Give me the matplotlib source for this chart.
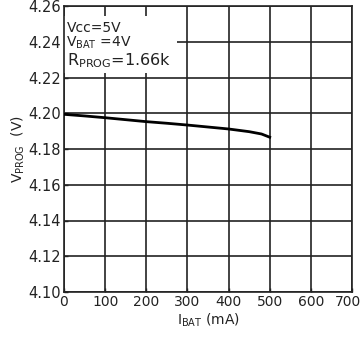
import matplotlib
matplotlib.use("Agg")
import matplotlib.pyplot as plt
from matplotlib.patches import Rectangle
from matplotlib.transforms import ScaledTranslation

# charge current (mA) vs PROG pin voltage (V)
ibat = [0, 50, 100, 150, 200, 250, 300, 350, 400, 450, 480, 500]
vprog = [4.1994, 4.1985, 4.1975, 4.1964, 4.1953, 4.1944, 4.1934, 4.1923, 4.1912, 4.1897, 4.1884, 4.1866]

xticks = [0, 100, 200, 300, 400, 500, 600, 700]
yticks = [4.10, 4.12, 4.14, 4.16, 4.18, 4.20, 4.22, 4.24, 4.26]

plt.rcParams['font.family'] = ['DejaVu Sans']
plt.rcParams['mathtext.fontset'] = 'dejavusans'

fig = plt.figure(figsize=(3.63, 3.37), dpi=100)
ax = fig.add_axes([64 / 363, 45 / 337, 288 / 363, 286 / 337])

ax.set_xlim(0, 700)
ax.set_ylim(4.10, 4.26)
ax.set_xticks(xticks)
ax.set_yticks(yticks)
ax.set_xticklabels([str(t) for t in xticks])
ax.set_yticklabels([f"{t:.2f}" for t in yticks])
ax.tick_params(direction='in', length=3, width=1, labelsize=10.5, pad=2, colors='#222222')
ax.tick_params(axis='x', labelsize=10)
# last x label sits a bit left so it stays inside the image
last = ax.get_xticklabels()[-1]
last.set_transform(last.get_transform() + ScaledTranslation(-4 / 100, 0, fig.dpi_scale_trans))
ax.grid(True, color='#222222', linewidth=1.2, zorder=1)
for s in ax.spines.values():
    s.set_color('#222222')
    s.set_linewidth(1.2)

ax.plot(ibat, vprog, color='black', linewidth=2, zorder=3)

# white box behind the conditions text
ax.add_patch(Rectangle((0, 4.2225), 275, 0.032, facecolor='white', edgecolor='none', zorder=2))
ax.text(8, 4.2452, "Vcc=5V", fontsize=10, ha='left', va='baseline', color='#222222', zorder=4)
ax.text(6, 4.2373, r"V$_{\mathregular{BAT}}$ =4V", fontsize=10, ha='left', va='baseline', color='#222222', zorder=4)
ax.text(8, 4.2270, r"R$_{\mathregular{PROG}}$=1.66k", fontsize=11.5, ha='left', va='baseline', color='#222222', zorder=4)

ax.set_xlabel(r"I$_{\mathregular{BAT}}$ (mA)", fontsize=10, labelpad=2, color='#222222')
ax.set_ylabel(r"V$_{\mathregular{PROG}}$  (V)", fontsize=10, labelpad=1, color='#222222')

fig.savefig("out.png", dpi=100, facecolor='white')
